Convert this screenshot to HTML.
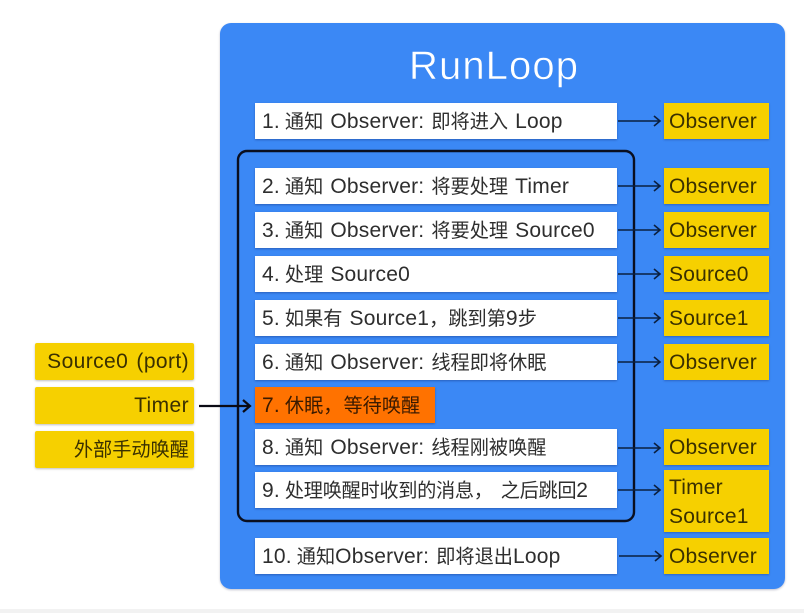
<!DOCTYPE html>
<html><head><meta charset="utf-8">
<style>
html,body{margin:0;padding:0;background:#fff}
body{width:804px;height:613px;position:relative;overflow:hidden;font-family:"Liberation Sans","Noto Sans CJK SC",sans-serif;color:#2e2e2e}
div{position:absolute;box-sizing:border-box}
i{font-style:normal;font-size:19.2px;letter-spacing:0}
.f{margin-left:5px}
.b{left:255px;width:362px;height:36px;background:#fff;font-size:21px;line-height:38px;padding-left:7px;white-space:pre;letter-spacing:.2px;word-spacing:1px;box-shadow:0 1px 2px rgba(0,0,60,.3)}
.y{left:664px;width:105px;height:36px;background:#f6d000;font-size:21px;line-height:38px;padding-left:5px;letter-spacing:.2px;color:#3a3000;box-shadow:0 1px 2px rgba(0,0,60,.25)}
.l{left:35px;width:159px;height:37px;background:#f6d000;font-size:21px;line-height:38px;text-align:right;padding-right:5px;letter-spacing:.4px;word-spacing:2px;color:#3a3000;border-radius:2px;box-shadow:0 1px 2px rgba(0,0,0,.25);white-space:pre}
</style></head><body>
<div style="left:0;top:609px;width:804px;height:4px;background:#f2f2f2"></div>
<div style="left:220px;top:23px;width:565px;height:566px;background:#3b88f5;border-radius:11px;box-shadow:0 1px 2px rgba(0,0,60,.25)"></div>
<div style="left:409px;top:39px;color:#fff;font-size:40px;line-height:54px;letter-spacing:1.1px;-webkit-text-stroke:.5px #3b88f5;white-space:pre">RunLoop</div>
<div class="b" style="top:103px">1.<i class="f">通知</i> Observer: <i>即将进入</i> Loop</div>
<div class="b" style="top:168px">2.<i class="f">通知</i> Observer: <i>将要处理</i> Timer</div>
<div class="b" style="top:212px">3.<i class="f">通知</i> Observer: <i>将要处理</i> Source0</div>
<div class="b" style="top:256px">4.<i class="f">处理</i> Source0</div>
<div class="b" style="top:300px">5.<i class="f">如果有</i> Source1<i>，跳到第</i>9<i>步</i></div>
<div class="b" style="top:344px">6.<i class="f">通知</i> Observer: <i>线程即将休眠</i></div>
<div class="b" style="top:387px;width:180px;background:#ff7200;color:#3a1a00">7.<i class="f">休眠<span style="margin-right:1px">，</span>等待唤醒</i></div>
<div class="b" style="top:429px">8.<i class="f">通知</i> Observer: <i>线程刚被唤醒</i></div>
<div class="b" style="top:472px">9.<i class="f" style="letter-spacing:-.3px">处理唤醒时收到的消息<span style="margin-right:8px">，</span>之后跳回</i>2</div>
<div class="b" style="top:538px">10.<i class="f">通知</i>Observer: <i>即将退出</i>Loop</div>
<div class="y" style="top:103px">Observer</div>
<div class="y" style="top:168px">Observer</div>
<div class="y" style="top:212px">Observer</div>
<div class="y" style="top:256px">Source0</div>
<div class="y" style="top:300px">Source1</div>
<div class="y" style="top:344px">Observer</div>
<div class="y" style="top:429px">Observer</div>
<div class="y" style="top:470px;height:62px;line-height:29px;padding-top:3px">Timer<br>Source1</div>
<div class="y" style="top:538px">Observer</div>
<div class="l" style="top:343px">Source0 (port)</div>
<div class="l" style="top:387px">Timer</div>
<div class="l" style="top:431px"><i>外部手动唤醒</i></div>
<svg width="804" height="613" style="position:absolute;left:0;top:0">
<rect x="238" y="151" width="396" height="370" rx="9" fill="none" stroke="#0a0f20" stroke-width="2.4"/>
<g fill="none" stroke="#0b2040" stroke-width="1.6">
<path d="M618 121H660M654 116l6 5-6 5"/>
<path d="M618 186H660M654 181l6 5-6 5"/>
<path d="M618 230H660M654 225l6 5-6 5"/>
<path d="M618 274H660M654 269l6 5-6 5"/>
<path d="M618 318H660M654 313l6 5-6 5"/>
<path d="M618 362H660M654 357l6 5-6 5"/>
<path d="M618 448H660M654 443l6 5-6 5"/>
<path d="M618 490H660M654 485l6 5-6 5"/>
<path d="M619 556H661M655 551l6 5-6 5"/>
</g>
<path d="M199 406H250M243 400l7 6-7 6" fill="none" stroke="#0a0a14" stroke-width="2.2"/>
</svg>
</body></html>
